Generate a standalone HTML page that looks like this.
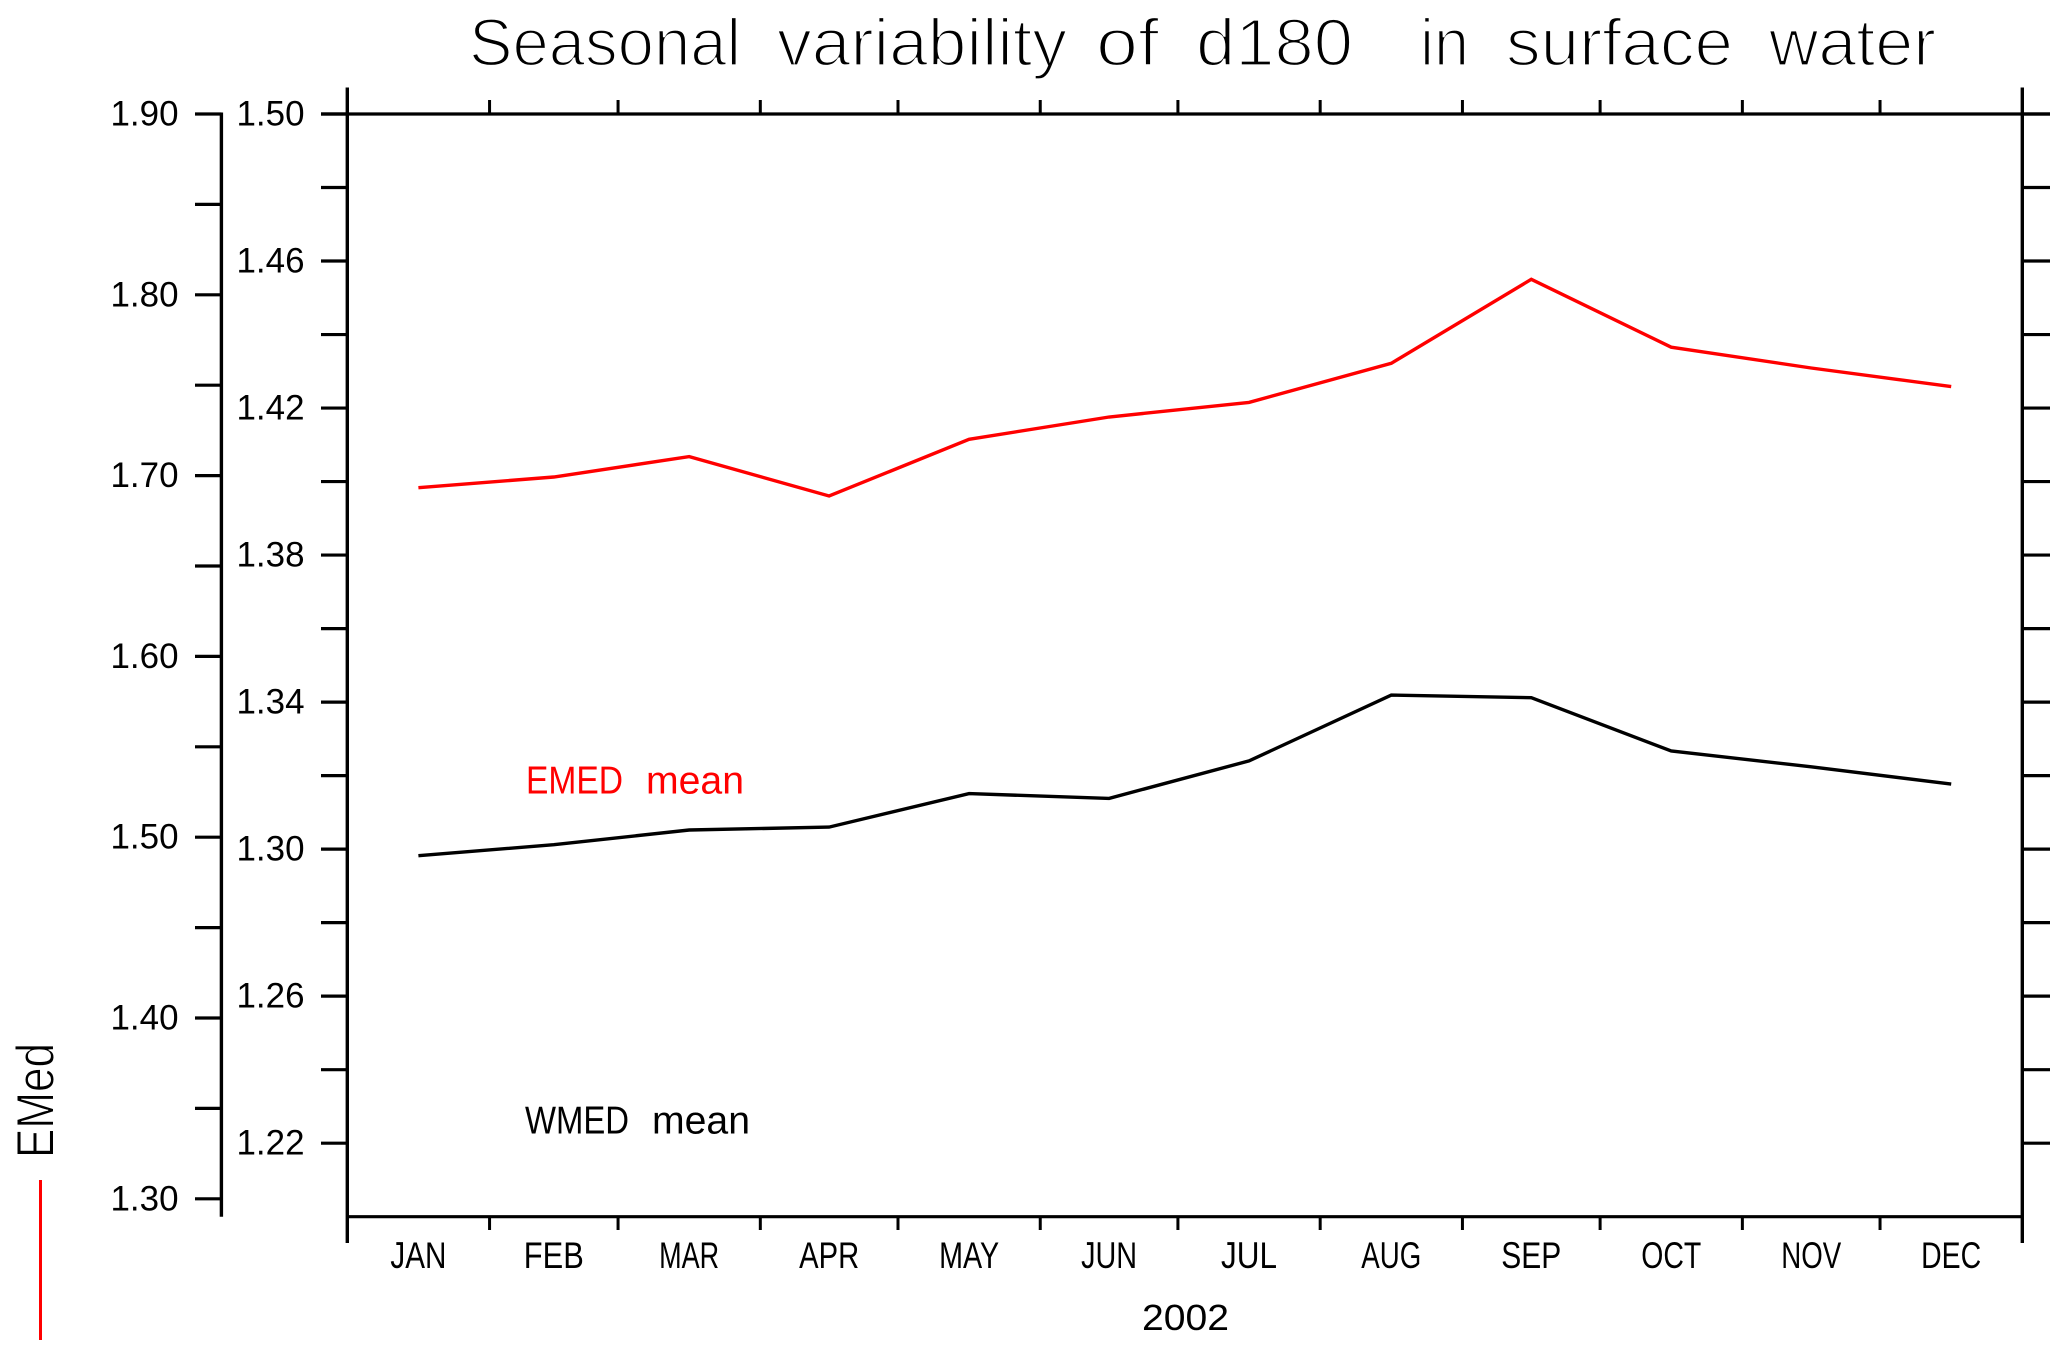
<!DOCTYPE html>
<html lang="en">
<head>
<meta charset="utf-8">
<title>Seasonal variability of d180 in surface water</title>
<style>
html,body{margin:0;padding:0;background:#fff;width:2067px;height:1358px;overflow:hidden}
svg{display:block}
text{font-family:"Liberation Sans",sans-serif}
.thin{stroke:#fff;stroke-width:2.2px}
</style>
</head>
<body>
<svg id="chart" width="2067" height="1358" viewBox="0 0 2067 1358" xmlns="http://www.w3.org/2000/svg">
  <rect x="0" y="0" width="2067" height="1358" fill="#fff"/>
  <g font-size="67" fill="#000" class="thin">
    <text x="469" y="65.5" textLength="272" lengthAdjust="spacingAndGlyphs">Seasonal</text>
    <text x="777" y="65.5" textLength="290" lengthAdjust="spacingAndGlyphs">variability</text>
    <text x="1096" y="65.5" textLength="63" lengthAdjust="spacingAndGlyphs">of</text>
    <text x="1196" y="65.5" textLength="157" lengthAdjust="spacingAndGlyphs">d180</text>
    <text x="1420" y="65.5" textLength="49" lengthAdjust="spacingAndGlyphs">in</text>
    <text x="1506" y="65.5" textLength="227" lengthAdjust="spacingAndGlyphs">surface</text>
    <text x="1769" y="65.5" textLength="167" lengthAdjust="spacingAndGlyphs">water</text>
  </g>
  <g id="axes"></g>
  <g id="series"></g>
  <text x="526" y="793.5" font-size="39" fill="#f00" textLength="97" lengthAdjust="spacingAndGlyphs">EMED</text>
  <text x="646" y="793.5" font-size="39" fill="#f00" textLength="98" lengthAdjust="spacingAndGlyphs">mean</text>
  <text x="525" y="1133.5" font-size="39" fill="#000" textLength="104" lengthAdjust="spacingAndGlyphs">WMED</text>
  <text x="652" y="1133.5" font-size="39" fill="#000" textLength="98" lengthAdjust="spacingAndGlyphs">mean</text>
  <text x="1142" y="1330" font-size="36" fill="#000" textLength="87" lengthAdjust="spacingAndGlyphs">2002</text>
  <text transform="translate(53.5,1158) rotate(-90)" font-size="53" fill="#000" textLength="115" lengthAdjust="spacingAndGlyphs" stroke="#fff" stroke-width="1">EMed</text>
  <line x1="40.5" y1="1180" x2="40.5" y2="1340" stroke="#f00" stroke-width="3"/>
</svg>
<script>
const months = ['JAN','FEB','MAR','APR','MAY','JUN','JUL','AUG','SEP','OCT','NOV','DEC'];
const monthDays = [31,28,31,30,31,30,31,31,30,31,30,31];
const emedMean = [1.6933,1.6992,1.7105,1.6887,1.7201,1.7324,1.7405,1.7621,1.8086,1.7710,1.7595,1.7492];
const wmedMean = [1.2982,1.3012,1.3052,1.3060,1.3151,1.3138,1.3240,1.3419,1.3412,1.3267,1.3224,1.3177];
const innerTicks = [1.20,1.22,1.24,1.26,1.28,1.30,1.32,1.34,1.36,1.38,1.40,1.42,1.44,1.46,1.48,1.50];
const innerTickLabels = ['1.22','1.26','1.30','1.34','1.38','1.42','1.46','1.50'];
const outerTicks = [1.30,1.35,1.40,1.45,1.50,1.55,1.60,1.65,1.70,1.75,1.80,1.85,1.90];
const outerTickLabels = ['1.30','1.40','1.50','1.60','1.70','1.80','1.90'];

const NS = 'http://www.w3.org/2000/svg';
const L = 347.3, R = 2022.3, T = 114, B = 1216.7;
const totalDays = monthDays.reduce((a, b) => a + b, 0);
const xDay = d => L + (R - L) * d / totalDays;
const yInner = v => T + (1.50 - v) * (B - T) / 0.30;
const yOuter = v => T + (1.90 - v) * 1808;

const axes = document.getElementById('axes');
const series = document.getElementById('series');

function seg(parent, name, x1, y1, x2, y2, w) {
  const el = document.createElementNS(NS, 'line');
  el.setAttribute('x1', x1);
  el.setAttribute('y1', y1);
  el.setAttribute('x2', x2);
  el.setAttribute('y2', y2);
  el.setAttribute('stroke', '#000');
  el.setAttribute('stroke-width', w);
  
  
  parent.appendChild(el);
}

function label(name, str, x, y, size, len) {
  const el = document.createElementNS(NS, 'text');
  el.textContent = str;
  el.setAttribute('x', x);
  el.setAttribute('y', y);
  el.setAttribute('font-size', size);
  el.setAttribute('textLength', len);
  el.setAttribute('lengthAdjust', 'spacingAndGlyphs');
  
  
  axes.appendChild(el);
}

/* plot frame */
seg(axes, 'plot-top-spine', 321, T, 2050, T, 3.2);
seg(axes, 'plot-bottom-spine', L, B, R, B, 3.2);
seg(axes, 'plot-left-spine', L, 87.5, L, 1243, 3.4);
seg(axes, 'plot-right-spine', R, 87.5, R, 1243, 3.4);
seg(axes, 'outer-y-axis-line', 221.4, 112.5, 221.4, B, 3.4);

/* month ticks and labels */
let cum = 0;
months.forEach((m, i) => {
  if (i > 0) {
    seg(axes, 'x-tick-top-' + m.toLowerCase(), xDay(cum), 100, xDay(cum), T, 3);
    seg(axes, 'x-tick-bottom-' + m.toLowerCase(), xDay(cum), B, xDay(cum), 1230, 3);
  }
  const cx = xDay(cum + monthDays[i] / 2);
  const w = m[0] === 'J' ? 56 : 60;
  label('x-tick-label-' + m.toLowerCase(), m, cx - w / 2, 1268, 37, w);
  cum += monthDays[i];
});

/* inner y axis + mirrored right ticks */
innerTicks.forEach(v => {
  const y = yInner(v);
  if (v > 1.2001) {
    seg(axes, 'inner-y-tick-' + v.toFixed(2), 321, y, L, y, 3.2);
    seg(axes, 'right-y-tick-' + v.toFixed(2), R, y, 2050, y, 3.2);
  }
});
innerTickLabels.forEach(s => {
  label('inner-y-tick-label-' + s, s, 236.5, yInner(parseFloat(s)) + 11.5, 35, 68);
});

/* outer y axis */
outerTicks.forEach(v => {
  const y = yOuter(v);
  seg(axes, 'outer-y-tick-' + v.toFixed(2), 195, y, 221.4, y, 3.2);
});
outerTickLabels.forEach(s => {
  label('outer-y-tick-label-' + s, s, 110.5, yOuter(parseFloat(s)) + 11.5, 35, 68);
});

/* series */
function drawLine(name, values, yFn, color) {
  let c = 0;
  const pts = values.map((v, i) => {
    const x = xDay(c + monthDays[i] / 2);
    c += monthDays[i];
    return x.toFixed(1) + ',' + yFn(v).toFixed(1);
  });
  const el = document.createElementNS(NS, 'polyline');
  el.setAttribute('points', pts.join(' '));
  el.setAttribute('fill', 'none');
  el.setAttribute('stroke', color);
  el.setAttribute('stroke-width', 3.4);
  el.setAttribute('stroke-linejoin', 'miter');
  
  
  series.appendChild(el);
}
drawLine('emed-mean-line', emedMean, yOuter, '#f00');
drawLine('wmed-mean-line', wmedMean, yInner, '#000');
</script>
</body>
</html>
